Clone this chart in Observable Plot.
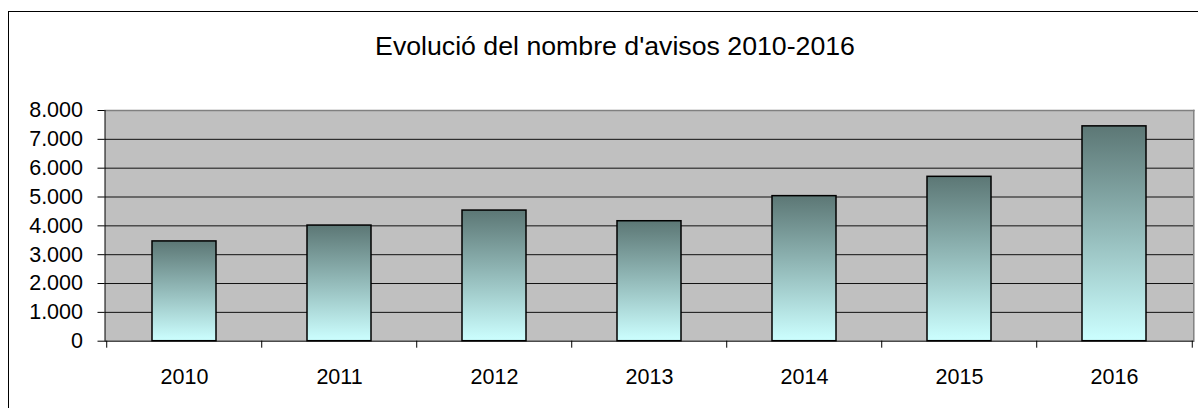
<!DOCTYPE html>
<html>
<head>
<meta charset="utf-8">
<script src="https://cdn.jsdelivr.net/npm/d3@7"></script>
<script src="https://cdn.jsdelivr.net/npm/@observablehq/plot@0.6"></script>
<style>
  html, body { margin: 0; padding: 0; background: #fff; overflow: hidden; }
  #wrap { position: relative; width: 1198px; height: 408px; overflow: hidden; font-family: "Liberation Sans", Arial, sans-serif; }
  #box { position: absolute; left: 8px; top: 11px; width: 1400px; height: 600px; border-left: 1px solid #000; border-top: 1px solid #000; pointer-events: none; }
  #title { height: 59px; padding-top: 31px; padding-left: 32px; width: 1166px; text-align: center; font-size: 26.7px; line-height: 30px; color: #000; white-space: nowrap; }
  #chart svg { display: block; }
</style>
</head>
<body>
<div id="wrap">
  <div id="box"></div>
  <div id="title">Evolució del nombre d'avisos 2010-2016</div>
  <div id="chart"></div>
</div>
<script>
const years = ["2010", "2011", "2012", "2013", "2014", "2015", "2016"];
const avisos = [3460, 4010, 4530, 4160, 5030, 5700, 7450];
const yTicks = [0, 1000, 2000, 3000, 4000, 5000, 6000, 7000, 8000];

const data = years.map((year, i) => ({year, value: avisos[i]}));

const W = 1198, mL = 104.5, mR = 4.7;
const step = (W - mL - mR) / years.length;
const fmt = d3.formatLocale({decimal: ",", thousands: ".", grouping: [3], currency: ["", " €"]}).format(",.0f");

const chart = Plot.plot({
  width: W,
  height: 318,
  marginLeft: mL,
  marginRight: mR,
  marginTop: 20,
  marginBottom: 67.3,
  style: {fontFamily: "'Liberation Sans', Arial, sans-serif", fontSize: "21.5px", color: "black", background: "transparent", overflow: "visible"},
  x: {domain: years, paddingInner: 0.59, paddingOuter: 0.295, label: null},
  y: {domain: [0, 8000], label: null},
  marks: [
    Plot.frame({fill: "#c0c0c0", stroke: null}),
    Plot.ruleY(yTicks.filter(t => t > 0 && t < 8000), {stroke: "#111"}),
    Plot.frame({anchor: "top", stroke: "#808080", strokeWidth: 1.5}),
    Plot.frame({anchor: "right", stroke: "#808080", strokeWidth: 1.5}),
    Plot.barY(data, {x: "year", y: "value", fill: "url(#barGrad)", stroke: "black", strokeWidth: 1.5}),
    Plot.ruleY([0], {stroke: "black"}),
    Plot.frame({anchor: "left", stroke: "black"}),
    Plot.axisY({ticks: yTicks, tickFormat: fmt, tickSize: 7, tickPadding: 15, stroke: "black"}),
    Plot.axisX({tickSize: 0, tickPadding: 28}),
    Plot.axisX({tickSize: 7, tickFormat: () => "", dx: -step / 2, stroke: "black"}),
    Plot.axisX({ticks: [years[years.length - 1]], tickSize: 7, tickFormat: () => "", dx: step / 2, stroke: "black"})
  ]
});

const defs = d3.select(chart).insert("defs", ":first-child");
const grad = defs.append("linearGradient").attr("id", "barGrad")
  .attr("x1", 0).attr("y1", 0).attr("x2", 0).attr("y2", 1);
grad.append("stop").attr("offset", "0%").attr("stop-color", "#5c7775");
grad.append("stop").attr("offset", "100%").attr("stop-color", "#ccffff");

document.getElementById("chart").appendChild(chart);
</script>
</body>
</html>
